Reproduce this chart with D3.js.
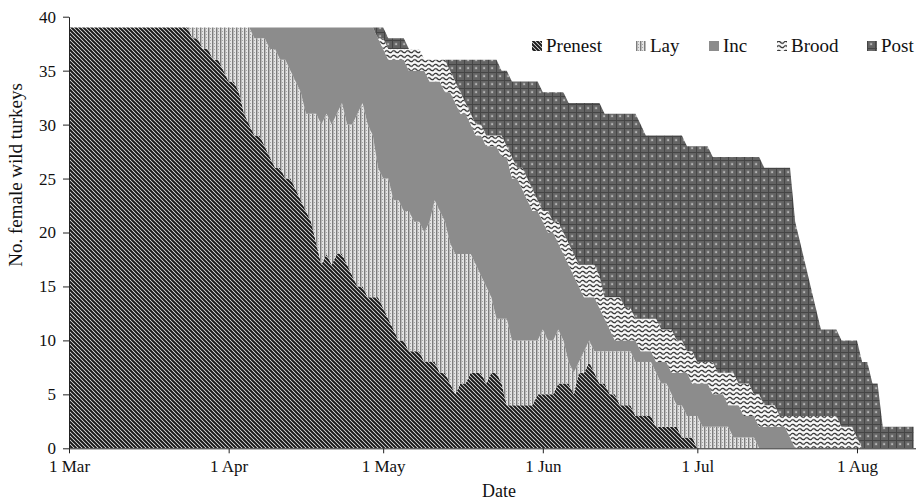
<!DOCTYPE html>
<html>
<head>
<meta charset="utf-8">
<script src="https://cdnjs.cloudflare.com/ajax/libs/d3/7.8.5/d3.min.js"></script>
<style>
  body { margin: 0; background: #fff; }
  svg text { font-family: "Liberation Serif", "Times New Roman", serif; fill: #111; }
</style>
</head>
<body>
<div id="canvas"></div>
<script>
// daily number of females in each stage, 1 Mar to 12 Aug
const stages = ["Prenest", "Lay", "Inc", "Brood", "Post"];
const monthTicks = ["1 Mar", "1 Apr", "1 May", "1 Jun", "1 Jul", "1 Aug"];
const yTicks = [0, 5, 10, 15, 20, 25, 30, 35, 40];

const prenest = [39,39,39,39,39,39,39,39,39,39,
  39,39,39,39,39,39,39,39,39,39,
  39,39,39,39,38,38,37,37,36,36,
  35,34,34,33,31,30,29,29,28,27,
  26,26,25,25,24,23,22,21,19,17,
  18,17,18,18,17,16,15,15,14,14,
  14,13,12,11,10,10,9,9,9,8,
  8,8,7,7,6,5,6,6,7,7,
  7,6,7,7,6,4,4,4,4,4,
  4,5,5,5,5,6,6,6,5,7,
  7,8,7,6,6,5,5,4,4,4,
  3,3,3,3,2,2,2,2,2,1,
  1,1,0,0,0,0,0,0,0,0,
  0,0,0,0,0,0,0,0,0,0,
  0,0,0,0,0,0,0,0,0,0,
  0,0,0,0,0,0,0,0,0,0,
  0,0,0,0,0];

const lay = [0,0,0,0,0,0,0,0,0,0,
  0,0,0,0,0,0,0,0,0,0,
  0,0,0,0,1,1,2,2,3,3,
  4,5,5,6,8,9,9,9,10,10,
  11,10,11,10,10,10,9,10,12,13,
  13,13,13,14,13,14,16,17,16,15,
  12,12,13,12,13,12,13,12,12,12,
  13,15,15,14,13,13,12,12,11,10,
  9,9,7,5,6,8,6,6,6,6,
  6,5,6,5,5,5,4,2,2,1,
  2,2,2,3,3,4,4,5,5,5,
  5,5,5,5,5,4,4,3,2,3,
  2,2,3,2,2,2,2,2,2,1,
  1,1,1,1,0,0,0,0,0,0,
  0,0,0,0,0,0,0,0,0,0,
  0,0,0,0,0,0,0,0,0,0,
  0,0,0,0,0];

const inc = [0,0,0,0,0,0,0,0,0,0,
  0,0,0,0,0,0,0,0,0,0,
  0,0,0,0,0,0,0,0,0,0,
  0,0,0,0,0,0,1,1,1,2,
  2,3,3,4,5,6,8,8,8,9,
  8,9,8,7,9,9,8,7,9,10,
  12,12,11,13,13,14,13,14,14,15,
  13,11,12,12,14,14,13,13,12,12,
  13,13,14,16,15,15,15,15,14,13,
  12,12,10,10,10,8,8,9,9,7,
  5,4,5,4,3,2,1,1,1,1,
  2,1,1,1,1,2,2,2,3,3,
  4,3,3,4,4,3,3,3,2,3,
  3,2,2,2,2,2,2,2,2,2,
  1,0,0,0,0,0,0,0,0,0,
  0,0,0,0,0,0,0,0,0,0,
  0,0,0,0,0];

const brood = [0,0,0,0,0,0,0,0,0,0,
  0,0,0,0,0,0,0,0,0,0,
  0,0,0,0,0,0,0,0,0,0,
  0,0,0,0,0,0,0,0,0,0,
  0,0,0,0,0,0,0,0,0,0,
  0,0,0,0,0,0,0,0,0,0,
  0,1,1,1,1,1,2,2,2,1,
  2,2,2,3,2,2,2,1,1,1,
  1,1,1,1,2,1,2,1,2,2,
  2,1,1,2,1,2,2,2,2,2,
  3,3,3,3,2,3,4,4,3,3,
  2,3,3,3,4,3,3,4,3,3,
  2,3,2,2,2,3,2,2,3,3,
  2,3,3,2,3,2,2,2,1,1,
  2,3,3,3,3,3,3,3,3,3,
  2,2,2,1,0,0,0,0,0,0,
  0,0,0,0,0];

const post = [0,0,0,0,0,0,0,0,0,0,
  0,0,0,0,0,0,0,0,0,0,
  0,0,0,0,0,0,0,0,0,0,
  0,0,0,0,0,0,0,0,0,0,
  0,0,0,0,0,0,0,0,0,0,
  0,0,0,0,0,0,0,0,0,0,
  1,1,1,1,1,1,0,0,0,0,
  0,0,0,0,1,2,3,4,5,6,
  6,7,7,7,6,7,7,8,8,9,
  10,11,11,11,12,12,13,13,14,15,
  15,15,15,16,17,17,17,17,18,18,
  19,18,17,17,17,18,18,18,19,19,
  19,19,20,20,20,19,20,20,20,20,
  21,21,21,22,22,22,22,22,23,23,
  23,18,16,14,12,10,8,8,8,8,
  8,8,8,9,8,8,6,6,2,2,
  2,2,2,2,2];

const width = 916;
const height = 501;

const svg = d3.select("#canvas").append("svg")
  .attr("width", width)
  .attr("height", height);

const parseTick = d3.utcParse("%d %b %Y");
const tickDates = monthTicks.map(t => parseTick(t + " 2010"));
const days = d3.utcDays(tickDates[0], new Date(Date.UTC(2010, 7, 13)));

const rows = days.map((day, i) => ({
  day: day,
  Prenest: prenest[i], Lay: lay[i], Inc: inc[i], Brood: brood[i], Post: post[i]
}));

const x = d3.scaleUtc()
  .domain([tickDates[0], new Date(Date.UTC(2010, 7, 12, 11))])
  .range([69, 916]);

const y = d3.scaleLinear()
  .domain([0, 40])
  .range([448.3, 16.7]);

// fill patterns
const defs = svg.append("defs");

const pPre = defs.append("pattern").attr("id", "pat-Prenest")
  .attr("patternUnits", "userSpaceOnUse").attr("width", 4).attr("height", 4);
pPre.append("rect").attr("width", 4).attr("height", 4).attr("fill", "#f0f0f0");
pPre.append("path").attr("d", "M-1,-1L5,5M-1,3L1,5M3,-1L5,1")
  .attr("stroke", "#1a1a1a").attr("stroke-width", 2);

const pLay = defs.append("pattern").attr("id", "pat-Lay")
  .attr("patternUnits", "userSpaceOnUse").attr("width", 4).attr("height", 3);
pLay.append("rect").attr("width", 4).attr("height", 3).attr("fill", "#e4e4e4");
pLay.append("rect").attr("width", 1.4).attr("height", 3).attr("fill", "#7c7c7c");
pLay.append("rect").attr("x", 2).attr("y", 1).attr("width", 1).attr("height", 1).attr("fill", "#a4a4a4");

const pInc = defs.append("pattern").attr("id", "pat-Inc")
  .attr("patternUnits", "userSpaceOnUse").attr("width", 4).attr("height", 4);
pInc.append("rect").attr("width", 4).attr("height", 4).attr("fill", "#8c8c8c");

const pBrood = defs.append("pattern").attr("id", "pat-Brood")
  .attr("patternUnits", "userSpaceOnUse").attr("width", 7).attr("height", 4.5);
pBrood.append("rect").attr("width", 7).attr("height", 4.5).attr("fill", "#fafafa");
pBrood.append("path").attr("d", "M0,2.25Q1.75,0.2 3.5,2.25T7,2.25")
  .attr("fill", "none").attr("stroke", "#1e1e1e").attr("stroke-width", 1.2);

const pPost = defs.append("pattern").attr("id", "pat-Post")
  .attr("patternUnits", "userSpaceOnUse").attr("width", 8).attr("height", 8);
pPost.append("rect").attr("width", 8).attr("height", 8).attr("fill", "#636363");
pPost.append("path").attr("d", "M0,0.5H8M0.5,0V8")
  .attr("stroke", "#454545").attr("stroke-width", 1);
pPost.append("rect").attr("x", 2.5).attr("y", 2.5).attr("width", 3).attr("height", 3).attr("fill", "#7c7c7c");
pPost.append("rect").attr("x", 3.5).attr("y", 3.5).attr("width", 1.2).attr("height", 1.2).attr("fill", "#f2f2f2");

svg.append("clipPath").attr("id", "plot-clip")
  .append("rect").attr("x", 69).attr("y", 0).attr("width", 847).attr("height", 448.3);

const series = d3.stack().keys(stages)(rows);

const area = d3.area()
  .x(d => x(d.data.day))
  .y0(d => y(d[0]))
  .y1(d => y(d[1]));

svg.append("g")
  .attr("clip-path", "url(#plot-clip)")
  .selectAll("path")
  .data(series)
  .enter().append("path")
  .attr("fill", d => `url(#pat-${d.key})`)
  .attr("d", area);

// axes
const xAxis = svg.append("g")
  .attr("transform", `translate(0, ${y(0)})`)
  .call(d3.axisBottom(x)
    .tickValues(tickDates)
    .tickFormat((d, i) => monthTicks[i])
    .tickSize(5).tickSizeOuter(0).tickPadding(7));

const yAxis = svg.append("g")
  .attr("transform", "translate(69, 0)")
  .call(d3.axisLeft(y)
    .tickValues(yTicks)
    .tickSize(6).tickSizeOuter(0).tickPadding(7));

[xAxis, yAxis].forEach(a => {
  a.selectAll("path, line").attr("stroke", "#222");
  a.selectAll("text").style("font-size", "17px").attr("fill", "#111")
    .style("font-family", "'Liberation Serif', serif");
});

svg.append("text")
  .attr("text-anchor", "middle")
  .style("font-size", "18px")
  .attr("x", 499)
  .attr("y", 497)
  .text("Date");

svg.append("text")
  .attr("text-anchor", "middle")
  .style("font-size", "19px")
  .attr("transform", "translate(22, 175) rotate(-90)")
  .text("No. female wild turkeys");

// legend
const legendX = [532, 636, 709, 777, 867];
const legend = svg.append("g").selectAll("g")
  .data(stages)
  .enter().append("g")
  .attr("transform", (d, i) => `translate(${legendX[i]}, 40)`);

legend.append("rect")
  .attr("width", 10).attr("height", 10)
  .attr("y", 1)
  .attr("fill", d => `url(#pat-${d})`);

legend.append("text")
  .attr("x", 14)
  .attr("y", 12)
  .style("font-size", "19px")
  .text(d => d);
</script>
</body>
</html>
